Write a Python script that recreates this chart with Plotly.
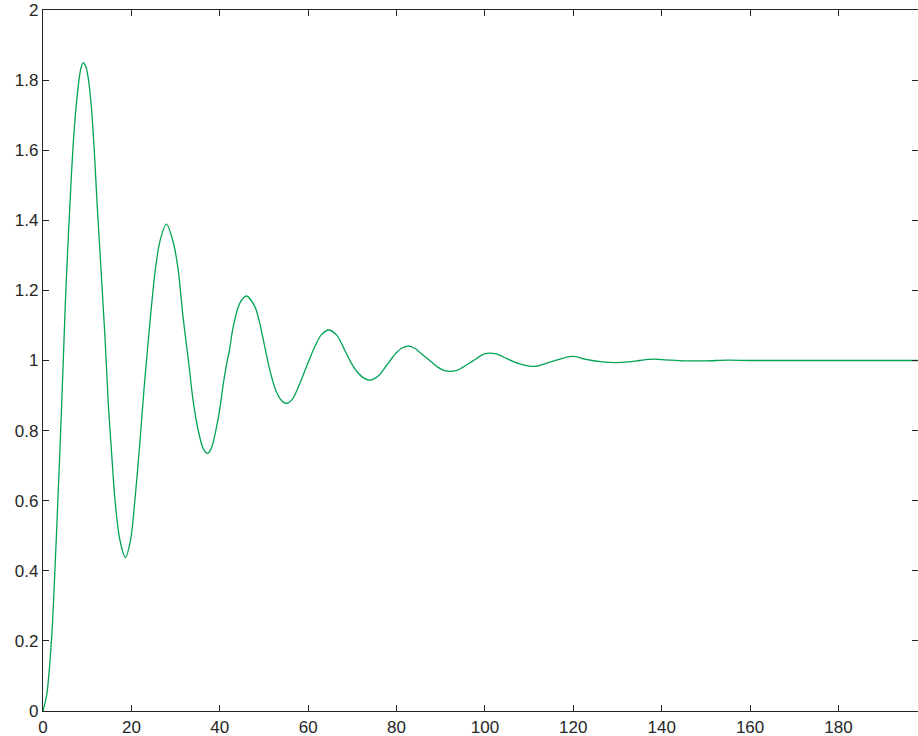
import plotly.graph_objects as go

t = [0, 0.83, 1.96, 2.71, 3.33, 4.0, 4.59, 5.2, 6.33, 6.86, 7.46, 8.14, 8.6, 9.11,
     9.7, 10.25, 11.0, 11.6, 12.28, 14.02, 14.77, 15.53, 16.29, 17.37, 18.65,
     19.84, 20.8, 21.91, 22.9, 24.18, 25.32, 26.45, 27.93, 29.46, 30.6,
     31.68, 33.0, 33.95, 35.14, 36.22, 37.21, 38.1, 39.28, 39.97, 40.76, 41.55,
     42.2, 43.03, 44.51, 46.04, 47.97, 49.05, 50.19, 51.32, 52.8, 54.29, 55.27,
     56.55, 58.13, 59.61, 61.49, 62.97, 64.65, 66.42, 67.91, 69.39, 70.92, 72.45,
     73.93, 75.8, 77.68, 79.16, 79.95, 81.13, 82.71, 84.09, 85.97, 87.45,
     89.32, 90.9, 93.52, 95.05, 97.32, 99.88, 102.55, 104.82, 107.48, 110.05,
     111.63, 113.9, 116.17, 119.13, 120.61, 122.88, 126.5, 129.5, 132.5, 135,
     138, 141, 145, 150, 155, 160, 165, 170, 175, 180, 185, 190, 198]
y = [0, 0.045, 0.21, 0.405, 0.59, 0.80, 1.0, 1.21, 1.505, 1.622, 1.72,
     1.80, 1.835, 1.85, 1.838, 1.805, 1.715, 1.60, 1.439, 1.068, 0.878, 0.735, 0.602,
     0.49, 0.438, 0.49, 0.602, 0.764, 0.925, 1.106, 1.249, 1.34, 1.389,
     1.338, 1.258, 1.125, 0.99, 0.887, 0.80, 0.75, 0.735, 0.75, 0.811, 0.859,
     0.93, 0.99, 1.03, 1.096, 1.163, 1.184, 1.153, 1.106, 1.039, 0.973, 0.911,
     0.882, 0.878, 0.892, 0.935, 0.982, 1.039, 1.073, 1.087, 1.073, 1.039, 1.001,
     0.97, 0.951, 0.944, 0.955, 0.985, 1.010, 1.022, 1.035, 1.041, 1.035,
     1.016, 1.001, 0.981, 0.971, 0.971, 0.981, 0.999, 1.019, 1.019, 1.006, 0.992,
     0.984, 0.984, 0.992, 1.001, 1.011, 1.011, 1.003, 0.996, 0.994, 0.996, 1.0,
     1.004, 1.002, 0.999, 0.999, 1.001, 1.0, 1.0, 1.0, 1.0, 1.0, 1.0, 1.0, 1.0]

x_ticks = [0, 20, 40, 60, 80, 100, 120, 140, 160, 180]
y_ticks = [0, 0.2, 0.4, 0.6, 0.8, 1, 1.2, 1.4, 1.6, 1.8, 2]
y_labels = ["0", "0.2", "0.4", "0.6", "0.8", "1", "1.2", "1.4", "1.6", "1.8", "2"]

fig = go.Figure()
fig.add_trace(go.Scatter(x=t, y=y, mode="lines",
                         line=dict(color="rgb(0,163,84)", width=1.3, shape="spline", smoothing=0.8),
                         showlegend=False, hoverinfo="skip"))

axis_common = dict(showgrid=False, zeroline=False, showline=True, linecolor="#262626",
                   linewidth=1.2, mirror="ticks", ticks="inside", ticklen=6,
                   tickcolor="#262626", tickwidth=1,
                   tickfont=dict(family="Liberation Sans, Arial", size=17, color="#262626"))

fig.update_xaxes(range=[0, 198], tickvals=x_ticks, automargin=False, **axis_common)
fig.update_yaxes(range=[0, 2], tickvals=y_ticks, ticktext=y_labels, automargin=False, **axis_common)

fig.update_layout(width=918, height=736, plot_bgcolor="white", paper_bgcolor="white",
                  margin=dict(l=43, r=0, t=10, b=25), hovermode=False)

fig.write_html("out.html", config={"displayModeBar": False, "staticPlot": True},
               post_script="document.body.style.margin='0';document.body.style.overflow='hidden';")
